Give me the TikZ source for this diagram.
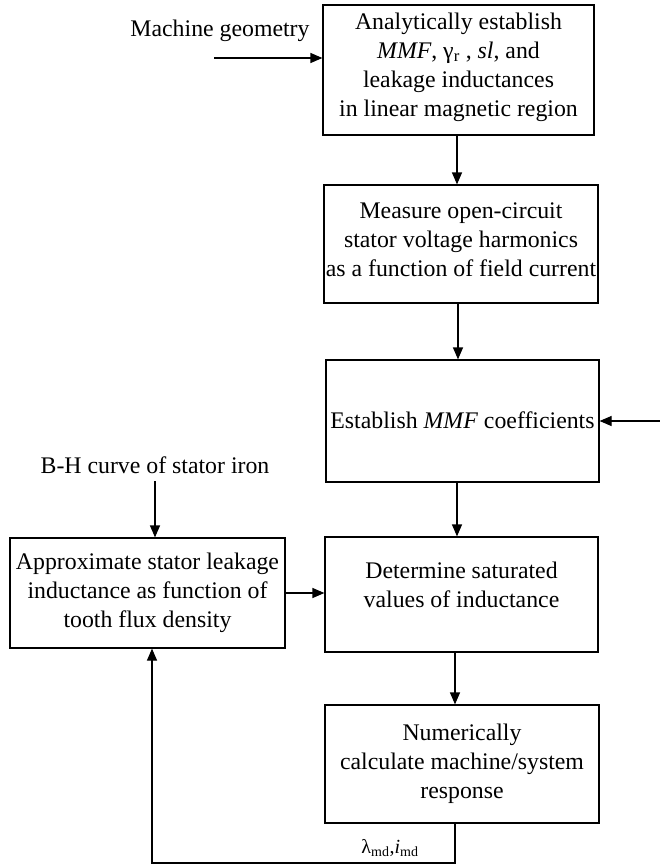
\documentclass[tikz,border=0pt]{standalone}
\usepackage{fontspec}
\setmainfont{Liberation Serif}
\usetikzlibrary{arrows.meta}
\tikzset{
  box/.style={draw, line width=1.2pt, rectangle, inner sep=0pt},
  txt/.style={align=center, inner sep=0pt, font=\fontsize{23.8}{29}\selectfont},
  flow/.style={line width=1.2pt, -{Triangle[length=12pt,width=10pt]}},
  wire/.style={line width=1.2pt}
}
\begin{document}
\begin{tikzpicture}[x=1pt,y=-1pt]
\useasboundingbox (0,0) rectangle (660,864);
% boxes
\node[box, minimum width=271pt, minimum height=130pt] (b1) at (458.5,70) {};
\node[box, minimum width=274pt, minimum height=118pt] (b2) at (461,244) {};
\node[box, minimum width=273pt, minimum height=122pt] (b3) at (462.5,421) {};
\node[box, minimum width=273pt, minimum height=115pt] (b4) at (461.5,594.5) {};
\node[box, minimum width=275pt, minimum height=110pt] (b5) at (147.5,593) {};
\node[box, minimum width=274pt, minimum height=118pt] (b6) at (462,764) {};
% texts
\node[txt] (t1) at (458.5,67)
  {Analytically establish\\ \textit{MMF}, γ\textsubscript{r} , \textit{sl}, and\\ leakage inductances\\ in linear magnetic region};
\node[txt] (t2) at (461,240)
  {Measure open-circuit\\ stator voltage harmonics\\ as a function of field current};
\node[txt] (t3) at (462.5,420) {Establish \textit{MMF} coefficients};
\node[txt] (t4) at (461.5,585) {Determine saturated\\ values of inductance};
\node[txt] (t5) at (147.5,593)
  {Approximate stator leakage\\ inductance as function of\\ tooth flux density};
\node[txt] (t6) at (462,764)
  {Numerically\\ calculate machine/system\\ response};
\node[txt] (mg) at (220,31) {Machine geometry};
\node[txt] (bh) at (155,465) {B-H curve of stator iron};
\node[txt, font=\fontsize{20}{22}\selectfont] (lam) at (390,848)
  {λ\textsubscript{md},\textit{i}\textsubscript{md}};
% connector ends
\coordinate (mgs) at (214,58);
\coordinate (rin) at (660,421);
\coordinate (bhs) at (155,481);
\coordinate (l1) at (455,863);
\coordinate (l2) at (152,863);
% connectors
\draw[flow] (mgs) -- (mgs -| b1.west);
\draw[flow] (b1.south -| 457,0) -- (b2.north -| 457,0);
\draw[flow] (b2.south -| 458,0) -- (b3.north -| 458,0);
\draw[flow] (rin) -- (b3.east);
\draw[flow] (b3.south -| 457,0) -- (b4.north -| 457,0);
\draw[flow] (bhs) -- (b5.north -| bhs);
\draw[flow] (b5.east) -- (b4.west |- b5.east);
\draw[flow] (b4.south -| 455,0) -- (b6.north -| 455,0);
\draw[flow] (b6.south -| l1) -- (l1) -- (l2) -- (b5.south -| l2);
\end{tikzpicture}
\end{document}
